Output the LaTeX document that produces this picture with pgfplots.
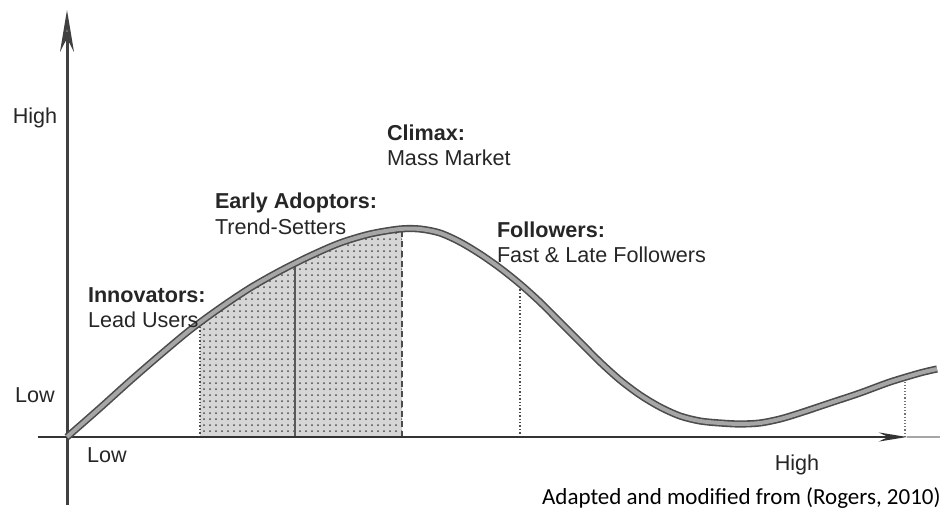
\documentclass[border=0pt]{standalone}
\usepackage{pgfplots}
\pgfplotsset{compat=1.18}
\usepackage{pgfplotstable}
\usepackage{fontspec}
\setmainfont{Liberation Sans}
\newfontfamily\calib{Carlito}
\usetikzlibrary{arrows.meta,patterns}
\usepgfplotslibrary{fillbetween}

\pgfplotstableread{
x y
0 0
33 29
63 56
93 82
123 107
153 129
183 149
213 166
243 181
273 194
303 203
333 208
353 208
373 204
393 195
413 183
433 169
453 153
473 135
493 115
513 95
533 75
553 57
573 42
593 30
613 21
633 16
653 14
673 13
693 14
713 18
733 24
763 34
793 44
823 55
853 64
870 68
}\curve

\tikzset{lab/.style={font=\fontsize{10.8}{12}\selectfont, text=black!85, inner sep=0pt, outer sep=0pt}}

\begin{document}
\begin{tikzpicture}
\begin{axis}[
  scale only axis, width=472pt, height=263.5pt,
  xmin=-67, xmax=877, ymin=-90, ymax=437,
  axis lines=none, clip=false, xtick=\empty, ytick=\empty,
]
\coordinate (BL) at (rel axis cs:0,0);
\coordinate (TR) at (rel axis cs:1,1);
% invisible paths for fill
\addplot[name path=curve, draw=none, smooth] table {\curve};
\addplot[name path=base, draw=none] coordinates {(0,0) (870,0)};
\addplot[fill=gray!32, draw=none] fill between[of=curve and base, soft clip={domain=133:335}];
\addplot[pattern=dots, pattern color=black!70, draw=none] fill between[of=curve and base, soft clip={domain=133:335}];
% vertical markers
\addplot[densely dotted, black!70, line width=0.7pt] coordinates {(133,0) (133,112)};
\addplot[black!65, line width=0.6pt] coordinates {(228,0) (228,172)};
\addplot[densely dashed, black!70, line width=0.8pt] coordinates {(335,0) (335,206)};
\addplot[densely dotted, black!70, line width=0.7pt] coordinates {(453,0) (453,149)};
\addplot[densely dotted, black!55, line width=0.6pt] coordinates {(838,0) (838,55)};
% axes
\draw[black!75, line width=1.5pt, -{Stealth[length=21pt, width=7pt, fill=gray!70]}] (axis cs:0,-68) -- (axis cs:0,427);
\draw[black!80, line width=1.4pt, -{Stealth[length=14pt, width=4.5pt, fill=gray!60]}] (axis cs:-29,0) -- (axis cs:840,0);
\draw[black!35, line width=0.8pt] (axis cs:840,0) -- (axis cs:873,0);
% curve
\addplot[smooth, draw=black!70, line width=3.6pt] table {\curve};
\addplot[smooth, draw=gray!70, line width=2pt] table {\curve};
% labels
\node[lab] at (axis cs:-32,319) {High};
\node[lab] at (axis cs:-32,42) {Low};
\node[lab] at (axis cs:40,-18) {Low};
\node[lab] at (axis cs:730,-28) {High};
\node[lab, anchor=west] at (axis cs:21,142) {\bfseries Innovators:};
\node[lab, anchor=west] at (axis cs:21,117) {Lead Users};
\node[lab, anchor=west] at (axis cs:148,234) {\bfseries Early Adoptors:};
\node[lab, anchor=west] at (axis cs:148,210) {Trend-Setters};
\node[lab, anchor=west] at (axis cs:320,304) {\bfseries Climax:};
\node[lab, anchor=west] at (axis cs:320,279) {Mass Market};
\node[lab, anchor=west] at (axis cs:430,207) {\bfseries Followers:};
\node[lab, anchor=west] at (axis cs:430,182) {Fast \& Late Followers};
\node[anchor=east, inner sep=0pt, font=\calib\fontsize{11.5}{13}\selectfont, text=black] at (axis cs:874,-61) {Adapted and modified from (Rogers, 2010)};
\end{axis}
\pgfresetboundingbox
\path (BL) rectangle (TR);
\end{tikzpicture}
\end{document}
